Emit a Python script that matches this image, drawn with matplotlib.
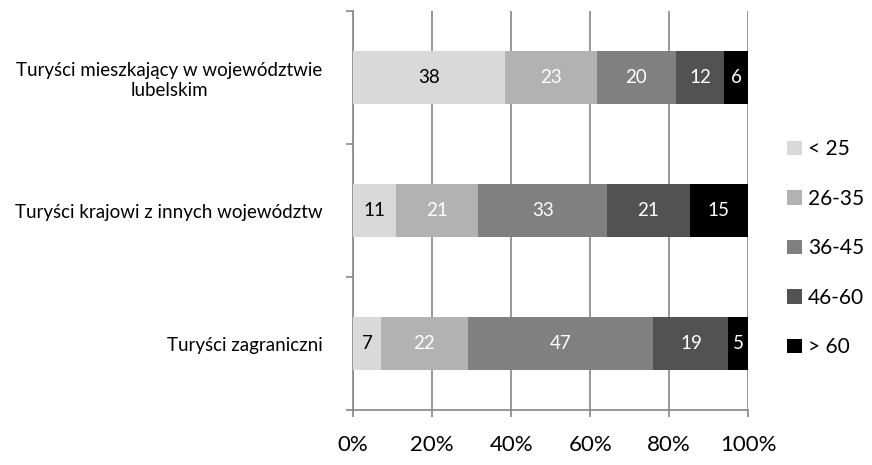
import matplotlib.pyplot as plt
import numpy as np

categories = ["Turyści mieszkający w województwie\nlubelskim",
              "Turyści krajowi z innych województw",
              "Turyści zagraniczni"]
groups = ["< 25", "26-35", "36-45", "46-60", "> 60"]
values = [
    [38, 11, 7],
    [23, 21, 22],
    [20, 33, 47],
    [12, 21, 19],
    [6, 15, 5],
]
colors = ["#d9d9d9", "#b2b2b2", "#808080", "#525252", "#000000"]
text_colors = ["black", "white", "white", "white", "white"]
xticks = [0, 20, 40, 60, 80, 100]

plt.rcParams['font.family'] = ['Lato', 'DejaVu Sans']

fig = plt.figure(figsize=(8.72, 4.65), dpi=100)
ax = fig.add_axes([0.405, 0.118, 0.453, 0.858])

vals_all = np.array(values, dtype=float)
totals = vals_all.sum(axis=0)  # 100% stacked
y = np.arange(len(categories))
left = np.zeros(len(categories))
handles = []
for vals, col, tcol, name in zip(vals_all, colors, text_colors, groups):
    widths = vals / totals * 100
    h = ax.barh(y, widths, left=left, height=0.4, color=col, label=name, zorder=3)
    handles.append(h)
    for yi, v, w, l in zip(y, vals, widths, left):
        ax.text(l + w / 2, yi, f"{int(v)}", ha='center', va='center',
                color=tcol, fontsize=13.5, zorder=4)
    left += widths

ax.set_xlim(0, 100)
ax.set_ylim(len(categories) - 0.5, -0.5)
ax.set_xticks(xticks)
ax.set_xticklabels([f"{t}%" for t in xticks], fontsize=16)
ax.tick_params(axis='x', length=5, width=1.2, color='#868686', pad=13)
ax.set_yticks(np.arange(len(categories) + 1) - 0.5)
ax.set_yticklabels([])
ax.tick_params(axis='y', length=5, width=1.2, color='#868686')
ax.set_yticks(y, minor=True)
ax.set_yticklabels(categories, minor=True, fontsize=13.5, multialignment='center')
ax.tick_params(axis='y', which='minor', length=0, pad=22)
ax.grid(axis='x', color='#868686', linewidth=1.2, zorder=0)

for s in ['top', 'right']:
    ax.spines[s].set_visible(False)
for s in ['left', 'bottom']:
    ax.spines[s].set_color('#868686')
    ax.spines[s].set_linewidth(1.2)

fig.legend(handles=handles, labels=groups, loc='center left',
           bbox_to_anchor=(0.903, 0.466), frameon=False, fontsize=15,
           handlelength=0.7, handleheight=0.7, handletextpad=0.3,
           labelspacing=1.42, borderpad=0, borderaxespad=0)

fig.savefig("out.png", dpi=100)
